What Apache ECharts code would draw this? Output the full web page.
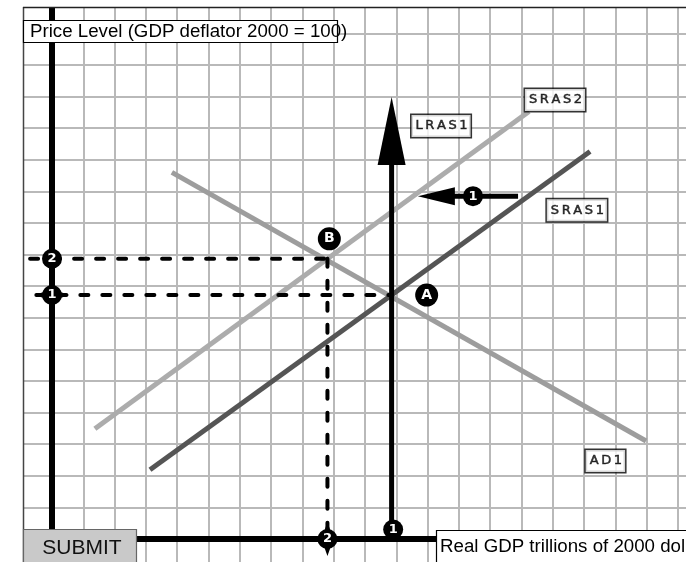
<!DOCTYPE html>
<html>
<head>
<meta charset="utf-8">
<script src="https://cdn.jsdelivr.net/npm/echarts@6/dist/echarts.min.js"></script>
<style>
  html, body { margin: 0; padding: 0; overflow: hidden; background: #fff; }
  #chart { width: 730px; height: 600px; }
</style>
</head>
<body>
<div id="chart"></div>
<script>
// everything is in grid units: one unit = one square of the graph paper
const sras1 = [[3.13, 2.19], [17.19, 12.26]];
const sras2 = [[1.37, 3.49], [15.24, 13.53]];
const ad1 = [[3.83, 11.6], [18.98, 3.1]];
const lras1 = [[10.85, 0], [10.85, 12.2]];
const lrasHead = [10.85, 12.91];
const shiftLine = [[14.89, 10.85], [12.6, 10.85]];
const shiftHead = [12.28, 10.85];

// dashed guides to the axes
const priceGuide2 = [[-0.7, 8.87], [8.8, 8.87]];
const priceGuide1 = [[-0.5, 7.72], [10.85, 7.72]];
const gdpGuide2 = [[8.8, 8.87], [8.8, 0]];

// numbered handles
const handleNames = ["2", "1", "2", "1", "1"];
const handleX = [0, 0, 8.8, 10.9, 13.45];
const handleY = [8.87, 7.72, 0, 0.3, 10.85];

// equilibrium points
const pointNames = ["A", "B"];
const pointX = [11.97, 8.86];
const pointY = [7.72, 9.5];

// curve tags
const tagNames = ["LRAS1", "SRAS2", "SRAS1", "AD1"];
const tagX = [12.43, 16.07, 16.77, 17.68];
const tagY = [13.07, 13.89, 10.4, 2.47];

const yTitle = "Price Level (GDP deflator 2000 = 100)";
const xTitle = "Real GDP trillions of 2000 dollars";
const buttonText = "SUBMIT";

const spaced = (s) => s.split("").join("\u2009");

const chart = echarts.init(document.getElementById("chart"), null, { renderer: "canvas" });

const gridLine = { show: true, lineStyle: { color: "#b9b9b9", width: 2 } };

const line = (data, color, width, extra) => ({
  type: "line",
  data: data,
  symbol: "none",
  silent: true,
  lineStyle: Object.assign({ color: color, width: width }, extra || {}),
  z: 3,
});

const dashed = { type: [8, 14], cap: "round" };
const solidBlack = { color: "#000", opacity: 1 };

const option = {
  animation: false,
  backgroundColor: "#fff",
  grid: { left: 20.7, top: 1.8, width: 688.6, height: 568.8, outerBoundsMode: "none" },
  xAxis: {
    type: "value",
    min: -1,
    max: 21,
    interval: 1,
    axisLine: { onZero: true, lineStyle: { color: "#000", width: 6 } },
    axisTick: { show: false },
    axisLabel: { show: false },
    splitLine: gridLine,
  },
  yAxis: {
    type: "value",
    min: -1,
    max: 17,
    interval: 1,
    axisLine: { onZero: true, lineStyle: { color: "#000", width: 6 } },
    axisTick: { show: false },
    axisLabel: { show: false },
    splitLine: gridLine,
  },
  series: [
    line(sras2, "#acacac", 5),
    line(ad1, "#9d9d9d", 5),
    line(sras1, "#555555", 5),
    line(priceGuide2, "#000", 4, dashed),
    line(priceGuide1, "#000", 4, dashed),
    line(gdpGuide2, "#000", 4, dashed),
    Object.assign(line(lras1, "#000", 5), { z: 4 }),
    Object.assign(line(shiftLine, "#000", 5), { z: 4 }),
    {
      type: "scatter",
      silent: true,
      symbol: "triangle",
      itemStyle: solidBlack,
      z: 5,
      data: [
        { value: lrasHead, symbolSize: [28, 68] },
        { value: shiftHead, symbolSize: [18, 37], symbolRotate: 90 },
      ],
    },
    {
      // little drag nubs on two of the handles
      type: "scatter",
      silent: true,
      symbol: "diamond",
      itemStyle: solidBlack,
      z: 6,
      data: [
        { value: [handleX[1], handleY[1]], symbolSize: [34, 12] },
        { value: [handleX[2], handleY[2]], symbolSize: [12, 34] },
      ],
    },
    {
      type: "scatter",
      silent: true,
      symbol: "circle",
      symbolSize: 20,
      itemStyle: solidBlack,
      z: 7,
      label: {
        show: true,
        position: "inside",
        formatter: "{b}",
        color: "#fff",
        fontFamily: "DejaVu Sans",
        fontWeight: "bold",
        fontSize: 13,
      },
      data: handleNames.map((n, i) => ({ name: n, value: [handleX[i], handleY[i]] })),
    },
    {
      type: "scatter",
      silent: true,
      symbol: "circle",
      symbolSize: 23,
      itemStyle: solidBlack,
      z: 7,
      label: {
        show: true,
        position: "inside",
        formatter: "{b}",
        color: "#fff",
        fontFamily: "DejaVu Sans",
        fontWeight: "bold",
        fontSize: 14,
      },
      data: pointNames.map((n, i) => ({ name: n, value: [pointX[i], pointY[i]] })),
    },
    {
      type: "scatter",
      silent: true,
      symbol: "rect",
      symbolSize: 1,
      itemStyle: { color: "rgba(0,0,0,0)" },
      z: 8,
      label: {
        show: true,
        position: "inside",
        formatter: (p) => spaced(p.name),
        color: "#000",
        fontFamily: "DejaVu Sans",
        fontSize: 13,
        textBorderColor: "#000",
        textBorderWidth: 0.5,
        backgroundColor: "#fff",
        borderColor: "#000",
        borderWidth: 1.5,
        padding: [5, 3, 4, 4],
      },
      data: tagNames.map((n, i) => ({ name: n, value: [tagX[i], tagY[i]] })),
    },
  ],
  graphic: [
    // frame of the graph paper
    { type: "rect", z: 100, silent: true, shape: { x: 0, y: 0, width: 23, height: 600 }, style: { fill: "#fff" } },
    { type: "rect", z: 100, silent: true, shape: { x: 0, y: 0, width: 730, height: 7 }, style: { fill: "#fff" } },
    { type: "line", z: 101, silent: true, shape: { x1: 23.5, y1: 7, x2: 23.5, y2: 600 }, style: { stroke: "#444", lineWidth: 1.5 } },
    { type: "line", z: 101, silent: true, shape: { x1: 23, y1: 7.5, x2: 730, y2: 7.5 }, style: { stroke: "#222", lineWidth: 1.5 } },
    // axis titles
    { type: "rect", z: 110, silent: true, shape: { x: 23.5, y: 20.5, width: 314, height: 22 }, style: { fill: "#fff", stroke: "#000", lineWidth: 1.2 } },
    { type: "text", z: 111, silent: true, x: 30, y: 32, style: { text: yTitle, font: '18.7px "Liberation Sans"', fill: "#000", verticalAlign: "middle" } },
    { type: "rect", z: 110, silent: true, shape: { x: 436.5, y: 530.5, width: 300, height: 40 }, style: { fill: "#fff", stroke: "#000", lineWidth: 1.2 } },
    { type: "text", z: 111, silent: true, x: 440, y: 547, style: { text: xTitle, font: '18.7px "Liberation Sans"', fill: "#000", verticalAlign: "middle" } },
    // submit button
    { type: "rect", z: 110, silent: true, shape: { x: 23.5, y: 529.5, width: 113, height: 40 }, style: { fill: "#c9c9c9", stroke: "#666", lineWidth: 1.2 } },
    { type: "text", z: 111, silent: true, x: 82, y: 548, style: { text: buttonText, font: '21px "Liberation Sans"', fill: "#111", align: "center", verticalAlign: "middle" } },
  ],
};

chart.setOption(option);
</script>
</body>
</html>
